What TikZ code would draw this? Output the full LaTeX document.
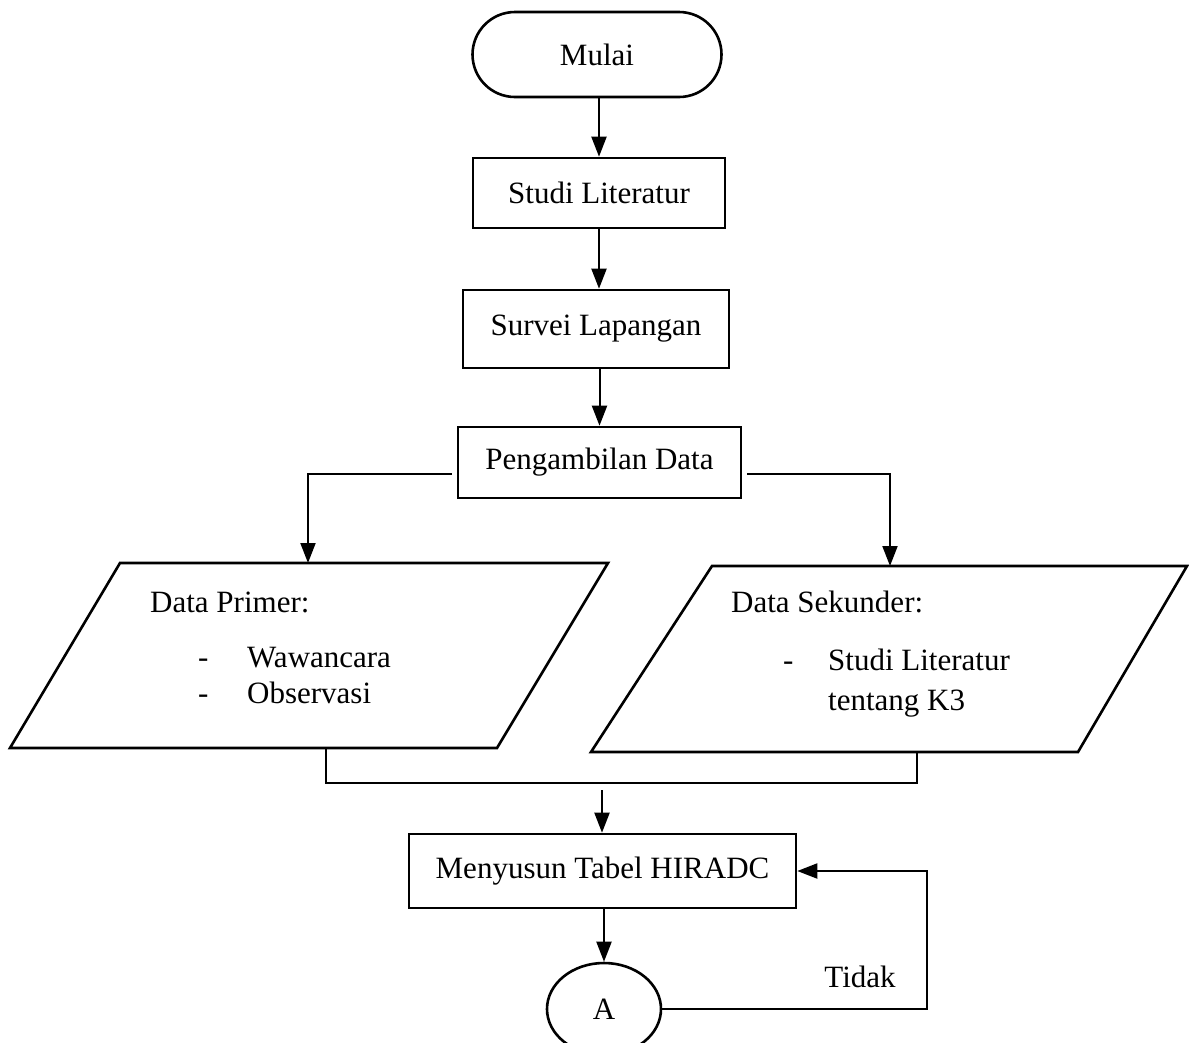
\documentclass[tikz,border=0pt]{standalone}
\usepackage{fontspec}
\setmainfont{Liberation Serif}
\usetikzlibrary{arrows.meta,shapes.misc,shapes.geometric}
\begin{document}
\begin{tikzpicture}[x=1pt,y=-1pt,
  font=\fontsize{31}{37}\selectfont,
  box/.style={draw,line width=2.6pt,inner sep=0pt},
  conn/.style={line width=2pt},
  arr/.style={conn,-{Triangle[length=20pt,width=15pt]}},
  txt/.style={inner sep=0pt,anchor=base west}]
\useasboundingbox (0,0) rectangle (1189,1042);
% process nodes
\node[box,rounded rectangle,minimum width=249pt,minimum height=85pt] (mulai) at (597,54.5) {Mulai};
\node[box,minimum width=252pt,minimum height=70pt] (studi) at (599,193) {Studi Literatur};
\node[box,minimum width=266pt,minimum height=78pt] (survei) at (596,329) {Survei Lapangan};
\node[box,minimum width=283pt,minimum height=71pt] (ambil) at (599.5,462.5) {Pengambilan Data};
\node[box,minimum width=387pt,minimum height=74pt] (susun) at (602.5,871) {Menyusun Tabel HIRADC};
\node[box,ellipse,minimum width=114pt,minimum height=92pt] (A) at (604,1009) {A};
% parallelograms
\coordinate (pL1) at (10,748);
\coordinate (pL2) at (120,563);
\coordinate (pL3) at (608,563);
\coordinate (pL4) at (497,748);
\draw[line width=2.6pt,line join=miter] (pL1) -- (pL2) -- (pL3) -- (pL4) -- cycle;
\coordinate (pR1) at (591,752);
\coordinate (pR2) at (712,566);
\coordinate (pR3) at (1187,566);
\coordinate (pR4) at (1078,752);
\draw[line width=2.6pt,line join=miter] (pR1) -- (pR2) -- (pR3) -- (pR4) -- cycle;
% texts in parallelograms
\node[txt] (dp) at (150,612) {Data Primer:};
\node[txt] (d1) at (198,667) {-};
\node[txt] (w) at (247,667) {Wawancara};
\node[txt] (d2) at (198,703) {-};
\node[txt] (o) at (247,703) {Observasi};
\node[txt] (ds) at (731,612) {Data Sekunder:};
\node[txt] (d3) at (783,670) {-};
\node[txt] (sl) at (828,670) {Studi Literatur};
\node[txt] (tk) at (828,710) {tentang K3};
\node (tidak) at (860,977) {Tidak};
% connector coordinates
\coordinate (inL) at (308,563);
\coordinate (inR) at (890,566);
\coordinate (outL) at (326,748);
\coordinate (outR) at (917,752);
\coordinate (mL) at (326,783);
\coordinate (mR) at (917,783);
\coordinate (mOut) at (602,790);
\coordinate (lp) at (927,1008);
% connectors
\draw[arr] (mulai.south -| studi.north) -- (studi.north);
\draw[arr] (studi.south) -- (studi.south |- survei.north);
\draw[arr] (survei.south -| ambil.north) -- (ambil.north);
\draw[arr] ([shift={(-5pt,-11pt)}]ambil.west) -| (inL);
\draw[arr] ([shift={(5pt,-11pt)}]ambil.east) -| (inR);
\draw[conn] (outL) -- (mL) -- (mR) -- (outR);
\draw[arr] (mOut) -- (mOut |- susun.north);
\draw[arr] (susun.south -| A.north) -- (A.north);
\draw[arr] (A.east) -- (A.east -| lp) |- (susun.east);
\end{tikzpicture}
\end{document}
